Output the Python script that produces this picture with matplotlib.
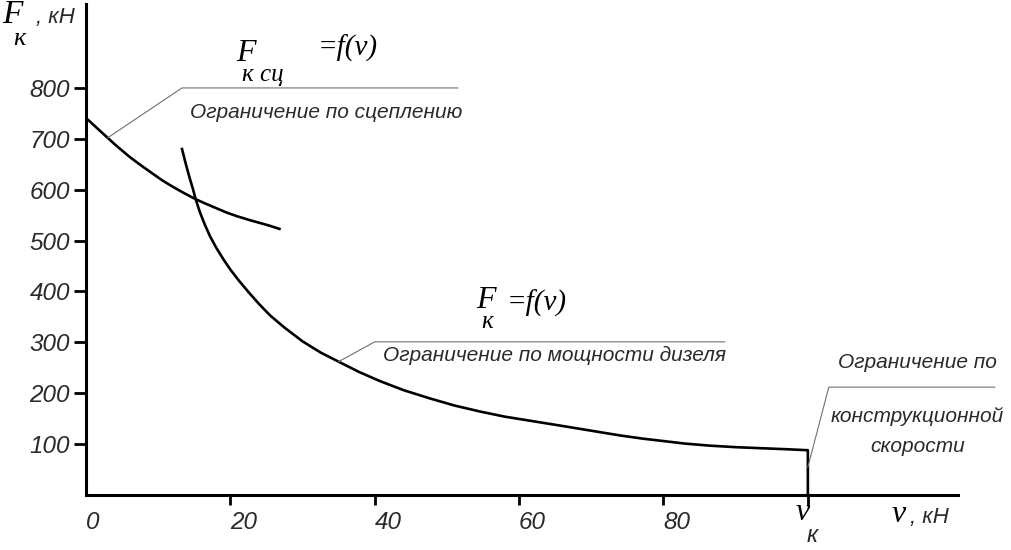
import numpy as np
import matplotlib.pyplot as plt

plt.rcParams['font.family'] = ['Liberation Sans', 'DejaVu Sans']
plt.rcParams['font.style'] = 'italic'

# тяговая характеристика: ограничение по сцеплению
v_sc = [0, 1, 2, 3, 4, 5, 6, 7.5, 9, 10.5, 12, 13.5, 15.1, 16.5, 18,
        19.5, 20.9, 22.5, 24, 25.5, 26.8]
F_sc = [741, 728, 715, 702, 689, 677, 665, 649, 634, 619, 606, 594, 582,
        573, 564, 555, 548, 541, 535, 529, 523]

# ограничение по мощности дизеля
v_d = [13.3, 13.8, 14.3, 14.8, 15.2, 15.8, 16.5, 17.2, 18, 19, 20, 21.2,
       22.5, 24, 25.5, 27.5, 30, 32.5, 35, 37.8, 40.7, 44, 47.6, 51, 54.6,
       58, 61.5, 65, 68, 71, 74, 77, 80, 83, 86.4, 90, 93.4, 97, 100]
F_d = [680, 652, 626, 602, 581, 555, 530, 508, 487, 464, 443, 421,
       399, 375, 353, 329, 302, 280, 262, 242, 224, 206, 190, 176, 164,
       154, 146, 138, 131, 124, 117, 111, 106, 101, 97, 94, 92, 90, 88]

v_k = 100  # конструкционная скорость
y_ticks = [100, 200, 300, 400, 500, 600, 700, 800]
x_ticks = [0, 20, 40, 60, 80, v_k]
x_labels = ['0', '20', '40', '60', '80', '']

W, H = 1012, 550
TXT = '#2a2a2a'
LEAD = '#707070'
SERIF = 'Liberation Serif'

fig = plt.figure(figsize=(W / 100, H / 100), dpi=100)
ax = fig.add_axes([86 / W, (H - 495) / H, (958 - 86) / W, (495 - 4) / H])
ax.set_xlim(0, 120.8)
ax.set_ylim(0, 965)

for s in ['top', 'right']:
    ax.spines[s].set_visible(False)
for s in ['left', 'bottom']:
    ax.spines[s].set_linewidth(2.2)

ax.set_yticks(y_ticks, [str(t) for t in y_ticks])
ax.set_xticks(x_ticks, x_labels)
ax.tick_params(axis='y', direction='out', length=8.5, width=2, pad=3,
               labelsize=17.5, labelcolor=TXT)
ax.tick_params(axis='x', direction='out', length=7.5, width=2, pad=4,
               labelsize=17.5, labelcolor=TXT)
ax.xaxis.get_major_ticks()[0].tick1line.set_visible(False)
for lbl in ax.get_xticklabels():
    lbl.set_ha('left')

# кривые
ax.plot(v_sc, F_sc, color='black', lw=1.9, solid_joinstyle='round')
ax.plot(v_d + [v_k], F_d + [0], color='black', lw=1.9, solid_joinstyle='round')

# выноски
def leader(pts):
    xs, ys = zip(*pts)
    ax.plot(xs, ys, color=LEAD, lw=0.8, clip_on=False)

a1 = 3.0
leader([(a1, np.interp(a1, v_sc, F_sc)), (13.3, 800), (51.5, 800)])
ax.text(14.4, 752, 'Ограничение по сцеплению', fontsize=15, color=TXT,
        ha='left', va='center')
ax.text(20.8, 868, 'F', family=SERIF, fontsize=23, ha='left', va='center')
ax.text(21.6, 826, 'к сц', family=SERIF, fontsize=18, ha='left', va='center')
ax.text(32.1, 878, '=f(v)', family=SERIF, fontsize=21, ha='left', va='center')

a2 = 35.0
leader([(a2, np.interp(a2, v_d, F_d)), (40.0, 301), (88.5, 301)])
ax.text(41.1, 275, 'Ограничение по мощности дизеля', fontsize=15, color=TXT,
        ha='left', va='center')
ax.text(54.1, 382, 'F', family=SERIF, fontsize=23, ha='left', va='center')
ax.text(54.8, 340, 'к', family=SERIF, fontsize=18, ha='left', va='center')
ax.text(58.3, 377, '=f(v)', family=SERIF, fontsize=21, ha='left', va='center')

leader([(v_k, 55), (102.9, 212), (125.9, 212)])
for yy, s in [(261, 'Ограничение по'), (155, 'конструкционной'), (96, 'скорости')]:
    ax.text(115.2, yy, s, fontsize=15, color=TXT, ha='center', va='center',
            clip_on=False)

# подписи осей
def px(x, y):
    return x / W, 1 - y / H

fig.text(*px(2, 15), 'F', family=SERIF, fontsize=24, ha='left', va='center')
fig.text(*px(13, 39), 'к', family=SERIF, fontsize=19, ha='left', va='center')
fig.text(*px(36, 17), ', кН', fontsize=16, color=TXT, ha='left', va='center')

fig.text(*px(796, 513), 'v', family=SERIF, fontsize=23, ha='left', va='center')
fig.text(*px(807, 535), 'к', fontsize=17, color=TXT, ha='left', va='center')
fig.text(*px(892, 515), 'v', family=SERIF, fontsize=23, ha='left', va='center')
fig.text(*px(910, 517), ', кН', fontsize=16, color=TXT, ha='left', va='center')

fig.savefig('out.png', dpi=100, facecolor='white')
